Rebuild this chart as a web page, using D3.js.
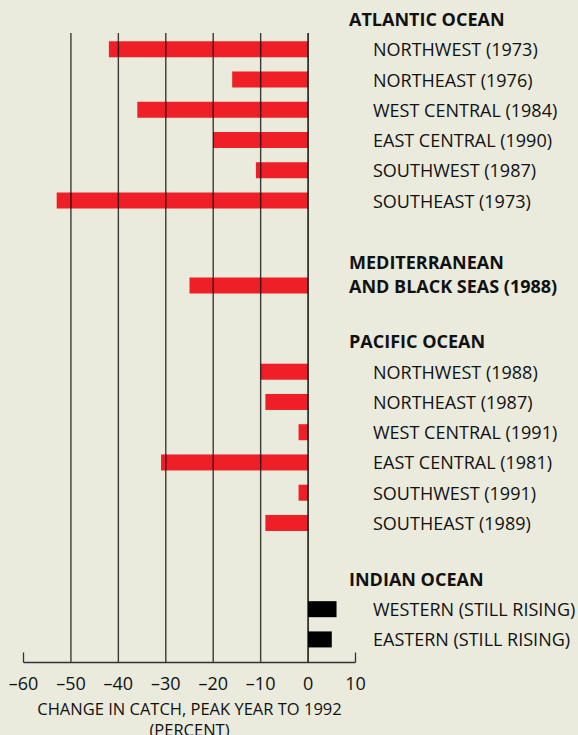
<!DOCTYPE html>
<html>
<head>
<meta charset="utf-8">
<script src="https://cdn.jsdelivr.net/npm/d3@7"></script>
<style>
  html, body { margin: 0; padding: 0; background: #eaeadd; }
  svg { display: block; font-family: "Open Sans", "Noto Sans", sans-serif; }
</style>
</head>
<body>
<svg id="chart" width="578" height="735"></svg>
<script>
// ocean groups, in drawing order
const groups = ["ATLANTIC OCEAN", "MEDITERRANEAN AND BLACK SEAS (1988)", "PACIFIC OCEAN", "INDIAN OCEAN"];

// regions per group: label and change in catch, peak year to 1992 (percent)
const atlanticRegions = ["NORTHWEST (1973)", "NORTHEAST (1976)", "WEST CENTRAL (1984)", "EAST CENTRAL (1990)", "SOUTHWEST (1987)", "SOUTHEAST (1973)"];
const atlanticValues = [-42, -16, -36, -20, -11, -53];

const mediterraneanValues = [-25];

const pacificRegions = ["NORTHWEST (1988)", "NORTHEAST (1987)", "WEST CENTRAL (1991)", "EAST CENTRAL (1981)", "SOUTHWEST (1991)", "SOUTHEAST (1989)"];
const pacificValues = [-10, -9, -2, -31, -2, -9];

const indianRegions = ["WESTERN (STILL RISING)", "EASTERN (STILL RISING)"];
const indianValues = [6, 5];

const xTicks = [-60, -50, -40, -30, -20, -10, 0, 10];
const axisTitle = ["CHANGE IN CATCH, PEAK YEAR TO 1992", "(PERCENT)"];

const svg = d3.select("#chart");

const x = d3.scaleLinear().domain([-60, 10]).range([23.5, 355.5]);

// row layout in "row units"; a heading sits one unit above its first region
const rowGap = 1.85;     // from last region to next heading
const medExtra = 0.18;   // mediterranean heading sits a bit lower
const medLineGap = 0.78; // two-line mediterranean heading
const rows = [];   // bars
const heads = [];  // heading lines
let slot = 0;
const addGroup = (title, labels, values) => {
  heads.push({ text: title, slot });
  labels.forEach((label, i) => {
    slot += 1;
    rows.push({ label, value: values[i], slot });
  });
  slot += rowGap;
};
addGroup(groups[0], atlanticRegions, atlanticValues);
slot += medExtra;
heads.push({ text: "MEDITERRANEAN", slot });
slot += medLineGap;
heads.push({ text: "AND BLACK SEAS (1988)", slot });
rows.push({ label: null, value: mediterraneanValues[0], slot });
slot += rowGap;
addGroup(groups[2], pacificRegions, pacificValues);
addGroup(groups[3], indianRegions, indianValues);

const y = d3.scaleLinear().domain([0, 1]).range([19, 49.25]);
const barH = 16;
const axisY = 662.5;
const gridTop = 33;

// bars
svg.append("g")
  .selectAll("rect")
  .data(rows)
  .join("rect")
  .attr("x", (d) => x(Math.min(0, d.value)))
  .attr("width", (d) => Math.abs(x(d.value) - x(0)))
  .attr("y", (d) => y(d.slot) - barH / 2)
  .attr("height", barH)
  .attr("fill", (d) => (d.value < 0 ? "#ee1f26" : "#000"));

// gridlines drawn over bars
svg.append("g")
  .selectAll("line")
  .data(xTicks.filter((t) => t > -60 && t < 10))
  .join("line")
  .attr("x1", (d) => x(d))
  .attr("x2", (d) => x(d))
  .attr("y1", gridTop)
  .attr("y2", axisY)
  .attr("stroke", "#000")
  .attr("stroke-opacity", (d) => (d === 0 ? 1 : 0.75))
  .attr("stroke-width", 1.4);

// axis
const axis = svg.append("g").attr("transform", `translate(0,${axisY})`);
axis.append("line")
  .attr("x1", x(-60))
  .attr("x2", x(10))
  .attr("stroke", "#333")
  .attr("stroke-width", 1.3);
axis.selectAll("line.tick")
  .data([-60, 10])
  .join("line")
  .attr("class", "tick")
  .attr("x1", (d) => x(d))
  .attr("x2", (d) => x(d))
  .attr("y1", -10)
  .attr("y2", 0)
  .attr("stroke", "#333")
  .attr("stroke-width", 1.3);
axis.selectAll("text")
  .data(xTicks)
  .join("text")
  .attr("x", (d) => x(d))
  .attr("y", 27.5)
  .attr("text-anchor", "middle")
  .attr("font-size", 18)
  .attr("fill", "#111")
  .text((d) => (d < 0 ? "\u2013" + Math.abs(d) : d));

svg.append("g")
  .selectAll("text")
  .data(axisTitle)
  .join("text")
  .attr("x", (x(-60) + x(10)) / 2)
  .attr("y", (d, i) => 715 + i * 20.5)
  .attr("text-anchor", "middle")
  .attr("font-size", 16.5)
  .attr("fill", "#111")
  .text((d) => d);

// labels
svg.append("g")
  .selectAll("text")
  .data(heads)
  .join("text")
  .attr("x", 349)
  .attr("y", (d) => y(d.slot) + 7)
  .attr("font-size", 18)
  .attr("font-weight", "bold")
  .attr("fill", "#111")
  .text((d) => d.text);

svg.append("g")
  .selectAll("text")
  .data(rows.filter((d) => d.label))
  .join("text")
  .attr("x", 373)
  .attr("y", (d) => y(d.slot) + 7)
  .attr("font-size", 18)
  .attr("fill", "#111")
  .text((d) => d.label);
</script>
</body>
</html>
